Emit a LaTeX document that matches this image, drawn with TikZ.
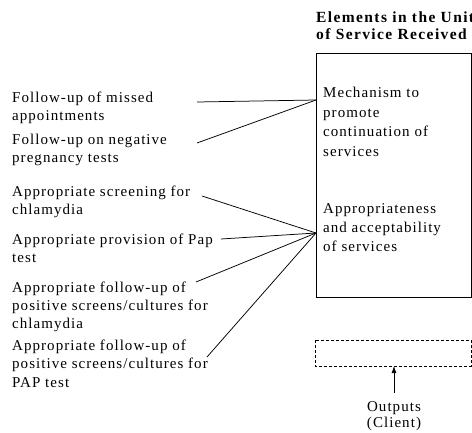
\documentclass[tikz,border=0pt]{standalone}
\usepackage{fontspec}
\setmainfont{Liberation Serif}[LetterSpace=7]
\usetikzlibrary{arrows.meta}
\begin{document}
\begin{tikzpicture}[x=1pt,y=-1pt,
  lbl/.style={anchor=base west,align=left,inner sep=0pt,
    font=\fontsize{15}{18}\selectfont},
  boxlbl/.style={anchor=base west,align=left,inner sep=0pt,
    font=\fontsize{15}{19.5}\selectfont},
  hdr/.style={anchor=base west,align=left,inner sep=0pt,
    font=\fontsize{15.5}{17}\selectfont\bfseries\addfontfeature{LetterSpace=9}},
  link/.style={draw=black,line width=0.75pt},
  frame/.style={draw=black,line width=0.9pt}]
\useasboundingbox (0,0) rectangle (472,433);

% heading over the unit-of-service column (base = last line)
\node[hdr] (head) at (316,40) {Elements in the Unit\\of Service Received};

% column of received elements
\draw[frame] (316,53) rectangle (471,297);
\node[boxlbl] (mech) at (323,156.5) {Mechanism to\\promote\\continuation of\\services};
\node[boxlbl] (appr) at (323,252) {Appropriateness\\and acceptability\\of services};
\coordinate (j1) at (316,100);
\coordinate (j2) at (316,233);

% output box
\draw[frame,dashed,dash pattern=on 3pt off 2pt] (315,340) rectangle (471,366);
\coordinate (outbox) at (394,366);
\node[lbl,anchor=base,align=center,font=\fontsize{15}{17}\selectfont] (out) at (394,428) {Outputs\\(Client)};
\coordinate (outtip) at (394,393);
\draw[link,-{Latex[length=7pt,width=5pt]}] (outtip) -- (outbox);

% indicators (base = last line)
\node[lbl] (t1) at (12,121) {Follow-up of missed\\appointments};
\node[lbl] (t2) at (12,163) {Follow-up on negative\\pregnancy tests};
\node[lbl] (t3) at (12,215) {Appropriate screening for\\chlamydia};
\node[lbl] (t4) at (12,263) {Appropriate provision of Pap\\test};
\node[lbl] (t5) at (12,329) {Appropriate follow-up of\\positive screens/cultures for\\chlamydia};
\node[lbl] (t6) at (12,387) {Appropriate follow-up of\\positive screens/cultures for\\PAP test};

\coordinate (s1) at (197,102);
\coordinate (s2) at (197,143);
\coordinate (s3) at (202,196);
\coordinate (s4) at (221,239);
\coordinate (s5) at (196,282);
\coordinate (s6) at (207,357);

\draw[link] (s1) -- (j1);
\draw[link] (s2) -- (j1);
\draw[link] (s3) -- (j2);
\draw[link] (s4) -- (j2);
\draw[link] (s5) -- (j2);
\draw[link] (s6) -- (j2);
\end{tikzpicture}
\end{document}
